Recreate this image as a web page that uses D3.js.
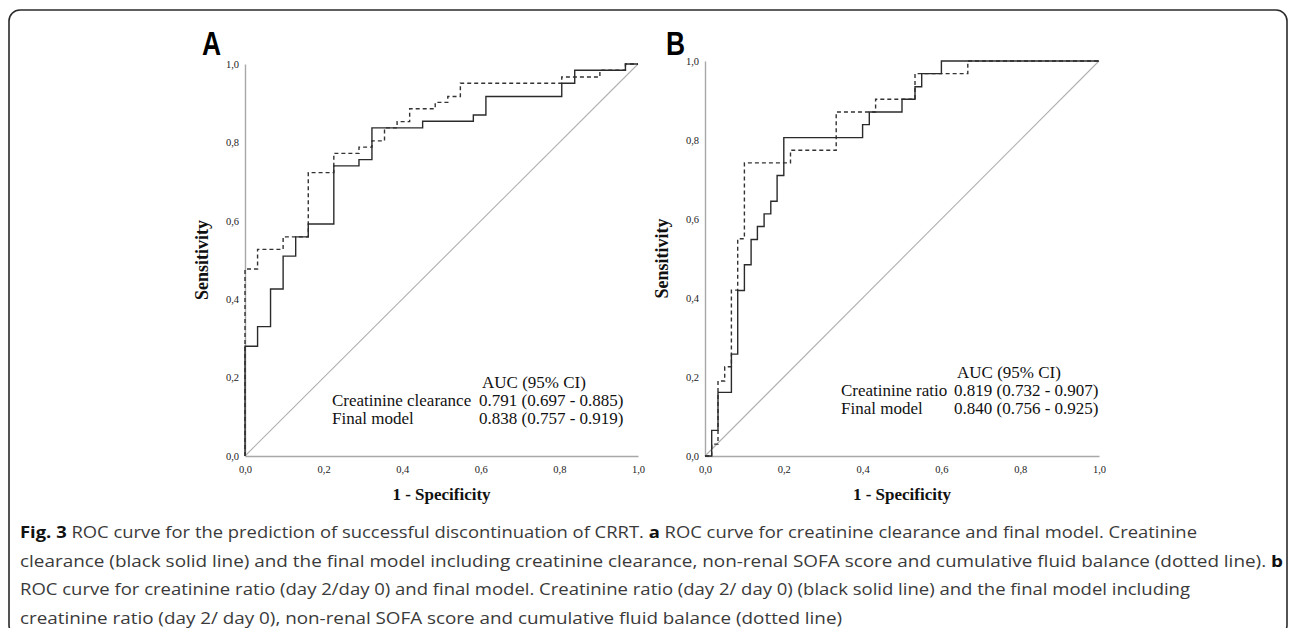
<!DOCTYPE html>
<html>
<head>
<meta charset="utf-8">
<script src="https://cdn.jsdelivr.net/npm/d3@7"></script>
<style>
  body { margin: 0; background: #fff; }
  svg { display: block; }
</style>
</head>
<body>
<div id="chart"></div>
<script>
// ROC points: fpr = 1 - specificity, tpr = sensitivity (value after each step)
const ticks = [0, 0.2, 0.4, 0.6, 0.8, 1.0]
const tickLabels = ['0,0', '0,2', '0,4', '0,6', '0,8', '1,0']

const clearanceFpr = [0, 0, 0.032, 0.065, 0.097, 0.129, 0.161, 0.226, 0.290, 0.323, 0.452, 0.581, 0.613, 0.806, 0.839, 0.968, 1]
const clearanceTpr = [0, 0.28, 0.33, 0.426, 0.51, 0.559, 0.592, 0.74, 0.756, 0.837, 0.854, 0.87, 0.917, 0.951, 0.984, 1, 1]

const finalAFpr = [0, 0, 0.032, 0.097, 0.161, 0.226, 0.290, 0.323, 0.355, 0.387, 0.419, 0.484, 0.516, 0.548, 0.806, 0.903, 0.968, 1]
const finalATpr = [0, 0.477, 0.527, 0.559, 0.723, 0.772, 0.788, 0.804, 0.837, 0.853, 0.886, 0.902, 0.917, 0.951, 0.967, 0.984, 1, 1]

const ratioFpr = [0, 0.017, 0.033, 0.067, 0.083, 0.1, 0.117, 0.133, 0.15, 0.167, 0.183, 0.2, 0.4, 0.417, 0.5, 0.533, 0.55, 0.6, 1]
const ratioTpr = [0, 0.065, 0.161, 0.258, 0.419, 0.484, 0.548, 0.581, 0.613, 0.645, 0.71, 0.806, 0.839, 0.871, 0.903, 0.935, 0.968, 1, 1]

const finalBFpr = [0, 0.017, 0.033, 0.05, 0.067, 0.083, 0.1, 0.217, 0.333, 0.433, 0.533, 0.667, 1]
const finalBTpr = [0, 0.03, 0.19, 0.226, 0.42, 0.55, 0.742, 0.774, 0.871, 0.903, 0.968, 1, 1]

const chanceLine = [[0, 0], [1, 1]]

const legendA = [['', 'AUC (95% CI)'], ['Creatinine clearance', '0.791 (0.697 - 0.885)'], ['Final model', '0.838 (0.757 - 0.919)']]
const legendB = [['', 'AUC (95% CI)'], ['Creatinine ratio', '0.819 (0.732 - 0.907)'], ['Final model', '0.840 (0.756 - 0.925)']]

const captionLines = [
  [['Fig. 3', true], [' ROC curve for the prediction of successful discontinuation of CRRT. ', false], ['a', true], [' ROC curve for creatinine clearance and final model. Creatinine', false]],
  [['clearance (black solid line) and the final model including creatinine clearance, non-renal SOFA score and cumulative fluid balance (dotted line). ', false], ['b', true]],
  [['ROC curve for creatinine ratio (day 2/day 0) and final model. Creatinine ratio (day 2/ day 0) (black solid line) and the final model including', false]],
  [['creatinine ratio (day 2/ day 0), non-renal SOFA score and cumulative fluid balance (dotted line)', false]]
]
const captionWidths = [1177, 1263, 1170, 822]

const w = 1290
const h = 628
const serif = '"Liberation Serif", "Times New Roman", serif'

const svg = d3.select('#chart')
  .append('svg')
  .attr('width', w)
  .attr('height', h)

// rounded frame, its bottom edge falls just below the picture
svg.append('rect')
  .attr('x', 9)
  .attr('y', 10)
  .attr('width', 1278)
  .attr('height', 626)
  .attr('rx', 11)
  .attr('fill', 'none')
  .attr('stroke', '#2a2a2a')
  .attr('stroke-width', 1.6)

const zip = (xs, ys) => xs.map((x, i) => [x, ys[i]])

function drawPanel(p) {
  const x = d3.scaleLinear().domain([0, 1]).range([p.left, p.right])
  const y = d3.scaleLinear().domain([0, 1]).range([p.bottom, p.top])
  const g = svg.append('g')

  // axes: plain grey lines with comma labels
  const xAxis = g.append('g')
    .attr('transform', `translate(0, ${p.bottom})`)
    .call(d3.axisBottom(x).tickValues(ticks).tickSize(0).tickPadding(10)
      .tickFormat((d, i) => tickLabels[i]))
  const yAxis = g.append('g')
    .attr('transform', `translate(${p.left}, 0)`)
    .call(d3.axisLeft(y).tickValues(ticks).tickSize(0).tickPadding(6)
      .tickFormat((d, i) => tickLabels[i]))

  ;[xAxis, yAxis].forEach(a => {
    a.select('.domain').attr('stroke', '#a8a8a8').attr('stroke-width', 1.4)
    a.selectAll('text')
      .attr('font-family', serif)
      .attr('font-size', 10.5)
      .attr('fill', '#222')
  })

  const line = d3.line()
    .x(d => x(d[0]))
    .y(d => y(d[1]))

  g.append('path')
    .attr('d', line(chanceLine))
    .attr('fill', 'none')
    .attr('stroke', '#b0b0b0')
    .attr('stroke-width', 1.1)

  const step = line.curve(d3.curveStepAfter)

  g.append('path')
    .attr('d', step(p.final))
    .attr('fill', 'none')
    .attr('stroke', '#333')
    .attr('stroke-width', 1.4)
    .attr('stroke-dasharray', '4,3')

  g.append('path')
    .attr('d', step(p.solid))
    .attr('fill', 'none')
    .attr('stroke', '#2b2b2b')
    .attr('stroke-width', 1.4)

  // panel letter, squeezed to look like the narrow bold face of the original
  g.append('text')
    .attr('transform', `translate(${p.letterX}, 55) scale(0.8, 1)`)
    .attr('font-family', '"Liberation Sans", Arial, sans-serif')
    .attr('font-weight', 'bold')
    .attr('font-size', 33)
    .attr('fill', '#000')
    .text(p.letter)

  g.append('text')
    .attr('transform', `translate(${p.left - 37}, ${(p.top + p.bottom) / 2}) rotate(-90)`)
    .attr('text-anchor', 'middle')
    .attr('font-family', serif)
    .attr('font-weight', 'bold')
    .attr('font-size', 18)
    .attr('fill', '#111')
    .text('Sensitivity')

  g.append('text')
    .attr('x', (p.left + p.right) / 2)
    .attr('y', 500)
    .attr('text-anchor', 'middle')
    .attr('font-family', serif)
    .attr('font-weight', 'bold')
    .attr('font-size', 17)
    .attr('fill', '#111')
    .text('1 - Specificity')

  const legend = g.append('g')
    .attr('font-family', serif)
    .attr('font-size', 17)
    .attr('fill', '#111')

  legend.selectAll('.lbl')
    .data(p.legend)
    .join('text')
      .attr('class', 'lbl')
      .attr('x', p.legendX)
      .attr('y', (d, i) => p.legendY + i * 18)
      .text(d => d[0])

  legend.selectAll('.val')
    .data(p.legend)
    .join('text')
      .attr('class', 'val')
      .attr('x', (d, i) => i === 0 ? p.valueX + 3 : p.valueX)
      .attr('y', (d, i) => p.legendY + i * 18)
      .text(d => d[1])
}

drawPanel({
  letter: 'A', letterX: 202,
  left: 245, right: 638, top: 64, bottom: 456,
  solid: zip(clearanceFpr, clearanceTpr),
  final: zip(finalAFpr, finalATpr),
  legend: legendA, legendX: 332, valueX: 479, legendY: 388
})

drawPanel({
  letter: 'B', letterX: 666,
  left: 705, right: 1099, top: 61, bottom: 456,
  solid: zip(ratioFpr, ratioTpr),
  final: zip(finalBFpr, finalBTpr),
  legend: legendB, legendX: 841, valueX: 954, legendY: 378
})

const caption = svg.append('g')
  .attr('font-family', '"Open Sans", "Noto Sans", sans-serif')
  .attr('font-size', 16)
  .attr('fill', '#3a3a3a')

captionLines.forEach((segs, i) => {
  const t = caption.append('text')
    .attr('x', 20)
    .attr('y', 538 + i * 28.7)
    .attr('textLength', captionWidths[i])
    .attr('lengthAdjust', 'spacingAndGlyphs')
  segs.forEach(s => {
    t.append('tspan')
      .attr('font-weight', s[1] ? 'bold' : 'normal')
      .attr('fill', s[1] ? '#111' : null)
      .text(s[0])
  })
})
</script>
</body>
</html>
